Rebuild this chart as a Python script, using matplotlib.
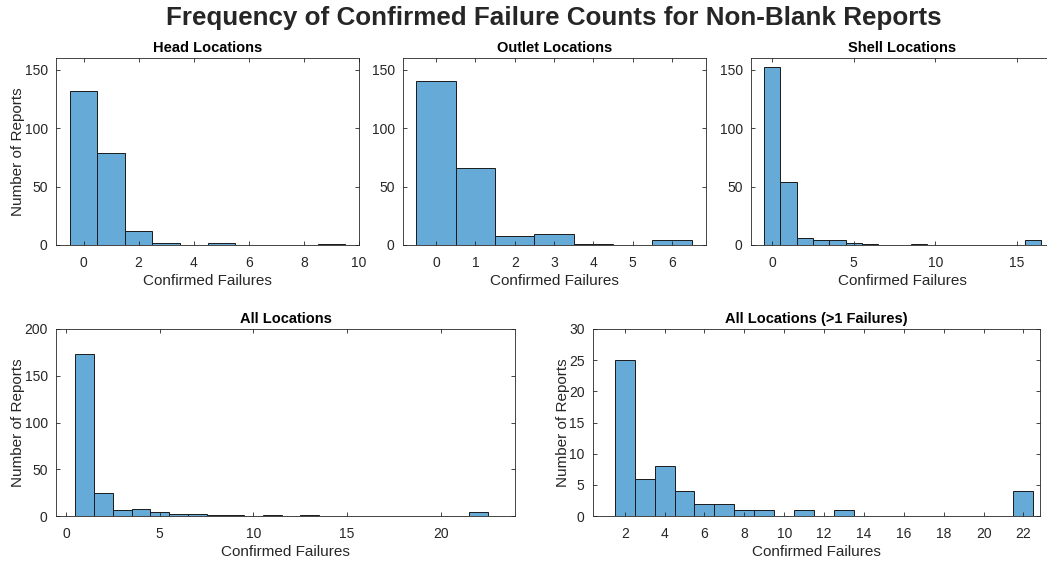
import numpy as np
import matplotlib
matplotlib.use("Agg")
import matplotlib.pyplot as plt

plt.rcParams['font.family'] = ['Liberation Sans', 'DejaVu Sans']

# data: counts per confirmed-failure value
head_x = list(range(0, 10))
head_n = [132, 79, 12, 2, 0, 2, 0, 0, 0, 1]

outlet_x = list(range(0, 7))
outlet_n = [140, 66, 8, 9, 1, 0, 4]

shell_x = list(range(0, 17))
shell_n = [152, 54, 6, 4, 4, 2, 1, 0, 0, 1, 0, 0, 0, 0, 0, 0, 4]

all_x = list(range(1, 23))
all_n = [173, 25, 6, 8, 4, 2, 2, 1, 1, 0, 1, 0, 1, 0, 0, 0, 0, 0, 0, 0, 0, 4]

multi_x = list(range(2, 23))
multi_n = [25, 6, 8, 4, 2, 2, 1, 1, 0, 1, 0, 1, 0, 0, 0, 0, 0, 0, 0, 0, 4]

BAR = '#66aad7'
AXC = '#262626'
W, H = 1047, 561

fig = plt.figure(figsize=(W / 100, H / 100), dpi=100)


def px_axes(left, top, right, bottom):
    return fig.add_axes([left / W, 1 - bottom / H, (right - left) / W, (bottom - top) / H])


def hist_panel(ax, x, n, title, xlim, ylim, xticks, yticks, ylabel=True):
    # zero bins are not drawn
    xs = [a for a, b in zip(x, n) if b > 0]
    ns = [b for b in n if b > 0]
    ax.bar(xs, ns, width=1.0, color=BAR, edgecolor='#1a1a1a', linewidth=0.7)
    ax.set_xlim(*xlim)
    ax.set_ylim(*ylim)
    ax.set_xticks(xticks)
    ax.set_yticks(yticks)
    ax.tick_params(direction='in', length=3, width=0.6, colors=AXC, labelsize=10,
                   top=True, right=True)
    ax.tick_params(axis='x', pad=8)
    ax.tick_params(axis='y', pad=6)
    for s in ax.spines.values():
        s.set_color('#262626')
        s.set_linewidth(0.6)
    ax.set_title(title, fontsize=10.5, fontweight='bold', color='black', pad=4)
    ax.set_xlabel('Confirmed Failures', fontsize=11, color=AXC, labelpad=3)
    if ylabel:
        ax.set_ylabel('Number of Reports', fontsize=11, color=AXC, labelpad=-0.5)


ax1 = px_axes(56, 58, 359, 245)
hist_panel(ax1, head_x, head_n, 'Head Locations', (-1, 10), (0, 160),
           [0, 2, 4, 6, 8, 10], [0, 50, 100, 150])

ax2 = px_axes(403, 58, 706, 245)
hist_panel(ax2, outlet_x, outlet_n, 'Outlet Locations', (-0.84, 6.86), (0, 160),
           range(0, 7), [0, 50, 100, 150], ylabel=False)

ax3 = px_axes(751, 58, 1054, 245)
hist_panel(ax3, shell_x, shell_n, 'Shell Locations', (-1.3, 17.27), (0, 160),
           [0, 5, 10, 15], [0, 50, 100, 150], ylabel=False)

ax4 = px_axes(56, 329, 515, 516)
hist_panel(ax4, all_x, all_n, 'All Locations', (-0.53, 23.95), (0, 200),
           [0, 5, 10, 15, 20], [0, 50, 100, 150, 200])

ax5 = px_axes(593, 329, 1040, 516)
hist_panel(ax5, multi_x, multi_n, 'All Locations (>1 Failures)', (0.41, 22.83), (0, 30),
           range(2, 23, 2), range(0, 31, 5))

fig.suptitle('Frequency of Confirmed Failure Counts for Non-Blank Reports',
             fontsize=18.7, fontweight='bold', color='#262626',
             x=554 / W, y=1 - 18 / H, va='center')

fig.savefig('out.png', dpi=100, facecolor='white')
